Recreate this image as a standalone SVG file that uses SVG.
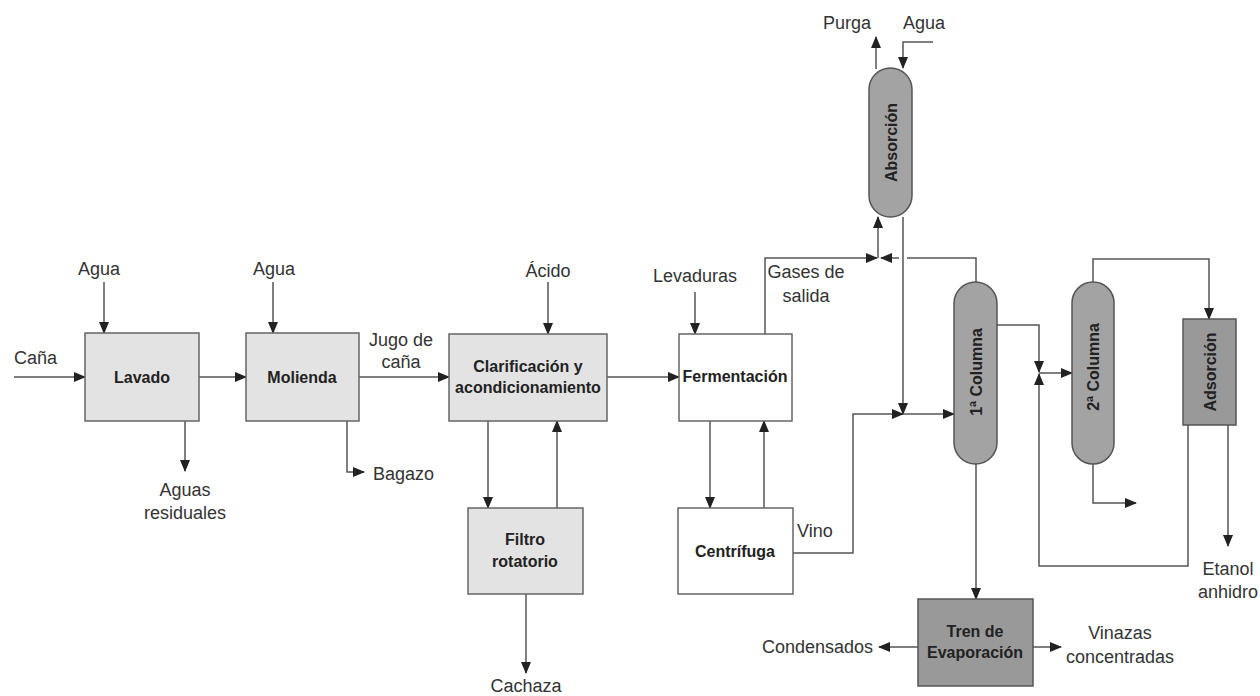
<svg xmlns="http://www.w3.org/2000/svg" width="1260" height="696" viewBox="0 0 1260 696">
<style>
.lbl{font-family:"Liberation Sans",Arial,sans-serif;font-size:18px;fill:#333}
.nt{font-family:"Liberation Sans",Arial,sans-serif;font-size:16px;font-weight:bold;fill:#222;text-anchor:middle}
.mid{text-anchor:middle}
.end{text-anchor:end}
.light{fill:#e3e3e3;stroke:#666;stroke-width:1.5}
.white{fill:#ffffff;stroke:#666;stroke-width:1.5}
.dark{fill:#a3a3a3;stroke:#555;stroke-width:1.5}
.darker{fill:#999999;stroke:#555;stroke-width:1.5}
.c{fill:none;stroke:#555;stroke-width:1.5}
.ca{fill:none;stroke:#555;stroke-width:1.5;marker-end:url(#ah)}
</style>
<defs>
<marker id="ah" markerUnits="userSpaceOnUse" markerWidth="12" markerHeight="10" refX="11" refY="5" orient="auto">
<path d="M0,0 L12,5 L0,10 z" fill="#222"/>
</marker>
</defs>
<rect width="1260" height="696" fill="#ffffff"/>

<g id="connectors">
<path class="ca" d="M14,377 H85"/>
<path class="ca" d="M104,282 V333"/>
<path class="ca" d="M199,377 H246"/>
<path class="ca" d="M273,282 V333"/>
<path class="ca" d="M185,421 V471"/>
<path class="ca" d="M347,421 V472 H364"/>
<path class="ca" d="M359,377 H449"/>
<path class="ca" d="M548,282 V334"/>
<path class="ca" d="M607,377 H679"/>
<path class="ca" d="M695,292 V334"/>
<path class="ca" d="M488,421 V508"/>
<path class="ca" d="M557,508 V421"/>
<path class="ca" d="M526,594 V673"/>
<path class="ca" d="M710,421 V508"/>
<path class="ca" d="M764,508 V421"/>
<path class="ca" d="M765,334 V258 H877"/>
<path class="c" d="M976,282 V258 H907"/>
<path class="ca" d="M899,258 H881"/>
<path class="ca" d="M878,258 V217"/>
<path class="ca" d="M876,69 V37"/>
<path class="ca" d="M933,42 H903 V68"/>
<path class="ca" d="M903,217 V414"/>
<path class="ca" d="M793,553 H853 V414 H903"/>
<path class="ca" d="M903,414 H954"/>
<path class="ca" d="M997,325 H1039 V372"/>
<path class="ca" d="M1188,425 V566 H1039 V374"/>
<path class="ca" d="M1039,373 H1072"/>
<path class="ca" d="M1093,282 V259 H1209 V319"/>
<path class="ca" d="M1228,425 V546"/>
<path class="ca" d="M1093,464 V503 H1136"/>
<path class="ca" d="M976,464 V599"/>
<path class="ca" d="M918,647 H879"/>
<path class="ca" d="M1033,647 H1061"/>
</g>

<g id="lavado"><rect class="light" x="85" y="333" width="114" height="88"/><text class="nt" x="142" y="383">Lavado</text></g>
<g id="molienda"><rect class="light" x="246" y="333" width="113" height="88"/><text class="nt" x="302" y="383">Molienda</text></g>
<g id="clarificacion"><rect class="light" x="449" y="334" width="158" height="87"/><text class="nt" x="528" y="372">Clarificación y</text><text class="nt" x="528" y="393">acondicionamiento</text></g>
<g id="fermentacion"><rect class="white" x="679" y="334" width="113" height="87"/><text class="nt" x="735" y="382">Fermentación</text></g>
<g id="filtro"><rect class="light" x="468" y="508" width="115" height="86"/><text class="nt" x="525" y="545">Filtro</text><text class="nt" x="525" y="567">rotatorio</text></g>
<g id="centrifuga"><rect class="white" x="678" y="508" width="115" height="86"/><text class="nt" x="735" y="557">Centrífuga</text></g>
<g id="absorcion"><rect class="dark" x="869" y="68" width="43" height="149" rx="21.5" ry="21.5"/><text class="nt" transform="translate(890.5,142.5) rotate(-90)" y="6">Absorción</text></g>
<g id="columna1"><rect class="dark" x="954" y="282" width="43" height="182" rx="21.5" ry="21.5"/><text class="nt" transform="translate(975.5,372) rotate(-90)" y="6">1ª Columna</text></g>
<g id="columna2"><rect class="dark" x="1072" y="282" width="42" height="182" rx="21" ry="21"/><text class="nt" transform="translate(1093,367) rotate(-90)" y="6">2ª Columna</text></g>
<g id="adsorcion"><rect class="darker" x="1183" y="319" width="53" height="106"/><text class="nt" transform="translate(1209.5,372) rotate(-90)" y="6">Adsorción</text></g>
<g id="tren"><rect class="darker" x="918" y="599" width="115" height="87"/><text class="nt" x="975" y="637">Tren de</text><text class="nt" x="975" y="658">Evaporación</text></g>

<g id="labels">
<text class="lbl" x="14" y="364">Caña</text>
<text class="lbl mid" x="99" y="275">Agua</text>
<text class="lbl mid" x="274" y="275">Agua</text>
<text class="lbl mid" x="401" y="346">Jugo de</text>
<text class="lbl mid" x="401" y="368">caña</text>
<text class="lbl" x="373" y="480">Bagazo</text>
<text class="lbl mid" x="185" y="496">Aguas</text>
<text class="lbl mid" x="185" y="519">residuales</text>
<text class="lbl mid" x="548" y="277">Ácido</text>
<text class="lbl mid" x="695" y="282">Levaduras</text>
<text class="lbl mid" x="806" y="278">Gases de</text>
<text class="lbl mid" x="806" y="302">salida</text>
<text class="lbl mid" x="847" y="29">Purga</text>
<text class="lbl mid" x="924" y="29">Agua</text>
<text class="lbl" x="797" y="537">Vino</text>
<text class="lbl mid" x="526" y="692">Cachaza</text>
<text class="lbl end" x="873" y="653">Condensados</text>
<text class="lbl mid" x="1120" y="639">Vinazas</text>
<text class="lbl mid" x="1120" y="663">concentradas</text>
<text class="lbl mid" x="1228" y="575">Etanol</text>
<text class="lbl mid" x="1228" y="598">anhidro</text>
</g>
</svg>
